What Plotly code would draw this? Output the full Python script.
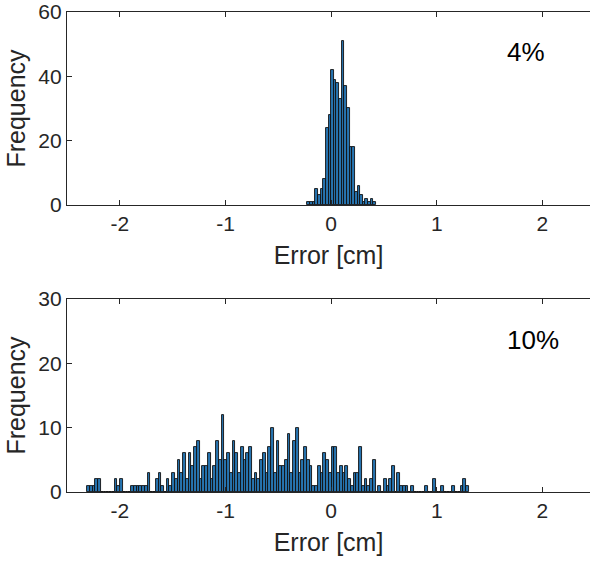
import plotly.graph_objects as go

# ---------------- data ----------------
top_counts = [1, 1, 1, 5, 3, 5, 8, 24, 28, 42, 39, 38, 33, 51, 37, 30, 18, 18,
              4, 6, 3, 1, 2, 1, 2, 1]
top_bin_start = -0.225
top_bin_width = 0.025

bottom_counts = [
    1, 1, 1, 2, 2, 0, 0, 0, 0, 0, 2, 1, 2, 0, 0, 0, 1, 1, 1, 1, 1, 1, 3, 0, 0,
    2, 3, 1, 0, 2, 1, 3, 2, 5, 3, 6, 2, 6, 4, 7, 8, 2, 4, 4, 6, 2, 4, 8, 5, 12,
    5, 6, 3, 8,
    6, 3, 7, 5, 6, 7, 2, 3, 2, 5, 6, 3, 7, 10, 3, 8, 4, 4, 5, 9,
    3, 8, 10, 3, 5, 7, 5, 4, 1, 1, 4, 3, 6, 5, 3, 7, 7, 3, 4, 3,
    4, 2, 1, 3, 3, 7, 1, 2, 1, 2, 5, 0, 1, 0, 2, 1, 2, 4, 0, 3,
    1, 1, 1, 0, 1, 0, 0, 0, 0, 1, 0, 0, 2, 0, 0, 1, 0, 0, 0, 1, 0, 0, 1, 2, 1]
bottom_bin_start = -2.31
bottom_bin_width = 0.026

x_tick_vals = [-2, -1, 0, 1, 2]
x_tick_text = ["-2", "-1", "0", "1", "2"]
top_y_ticks = [0, 20, 40, 60]
bottom_y_ticks = [0, 10, 20, 30]
x_label = "Error [cm]"
y_label = "Frequency"
panel_labels = ["4%", "10%"]

# ---------------- figure ----------------
AX = "#262626"
FONT = "Liberation Sans, Arial, sans-serif"
BAR_FILL = "#2774b0"
BAR_EDGE = "#111111"


def centers(start, width, n):
    return [start + width * (i + 0.5) for i in range(n)]


fig = go.Figure()
fig.add_trace(go.Bar(
    x=centers(top_bin_start, top_bin_width, len(top_counts)), y=top_counts,
    width=top_bin_width, marker=dict(color=BAR_FILL, line=dict(color=BAR_EDGE, width=0.9)),
    xaxis="x", yaxis="y", showlegend=False, hoverinfo="x+y"))
fig.add_trace(go.Bar(
    x=centers(bottom_bin_start, bottom_bin_width, len(bottom_counts)), y=bottom_counts,
    width=bottom_bin_width, marker=dict(color=BAR_FILL, line=dict(color=BAR_EDGE, width=0.9)),
    xaxis="x2", yaxis="y2", showlegend=False, hoverinfo="x+y"))

common_x = dict(range=[-2.5, 2.45], tickvals=x_tick_vals, ticktext=x_tick_text,
                ticks="inside", ticklen=5, tickwidth=1, tickcolor=AX,
                showline=True, linecolor=AX, linewidth=1.3, mirror="ticks",
                showgrid=False, zeroline=False, automargin=False,
                tickfont=dict(family=FONT, size=21, color=AX),
                title=dict(text=x_label, font=dict(family=FONT, size=25, color=AX), standoff=12))
common_y = dict(ticks="inside", ticklen=5, tickwidth=1, tickcolor=AX,
                showline=True, linecolor=AX, linewidth=1.3, mirror=False,
                showgrid=False, zeroline=False, automargin=False,
                tickfont=dict(family=FONT, size=21, color=AX),
                title=dict(text=y_label, font=dict(family=FONT, size=25, color=AX), standoff=5))

fig.update_layout(
    width=590, height=562,
    margin=dict(l=67, r=0, t=12, b=70),
    paper_bgcolor="white", plot_bgcolor="white",
    bargap=0,
    xaxis=dict(domain=[0, 1], anchor="y", **common_x),
    yaxis=dict(domain=[0.598, 1], anchor="x", range=[0, 60], tickvals=top_y_ticks, **common_y),
    xaxis2=dict(domain=[0, 1], anchor="y2", **common_x),
    yaxis2=dict(domain=[0, 0.402], anchor="x2", range=[0, 30], tickvals=bottom_y_ticks, **common_y),
    annotations=[
        dict(text=panel_labels[0], x=1.645, y=47.5, xref="x", yref="y", xanchor="left",
             yanchor="middle", showarrow=False, font=dict(family=FONT, size=26, color="black")),
        dict(text=panel_labels[1], x=1.645, y=23.6, xref="x2", yref="y2", xanchor="left",
             yanchor="middle", showarrow=False, font=dict(family=FONT, size=26, color="black")),
    ],
)

fig.write_html(
    "out.html",
    config={"displayModeBar": False},
    post_script="document.body.style.margin='0';document.body.style.overflow='hidden';",
)
